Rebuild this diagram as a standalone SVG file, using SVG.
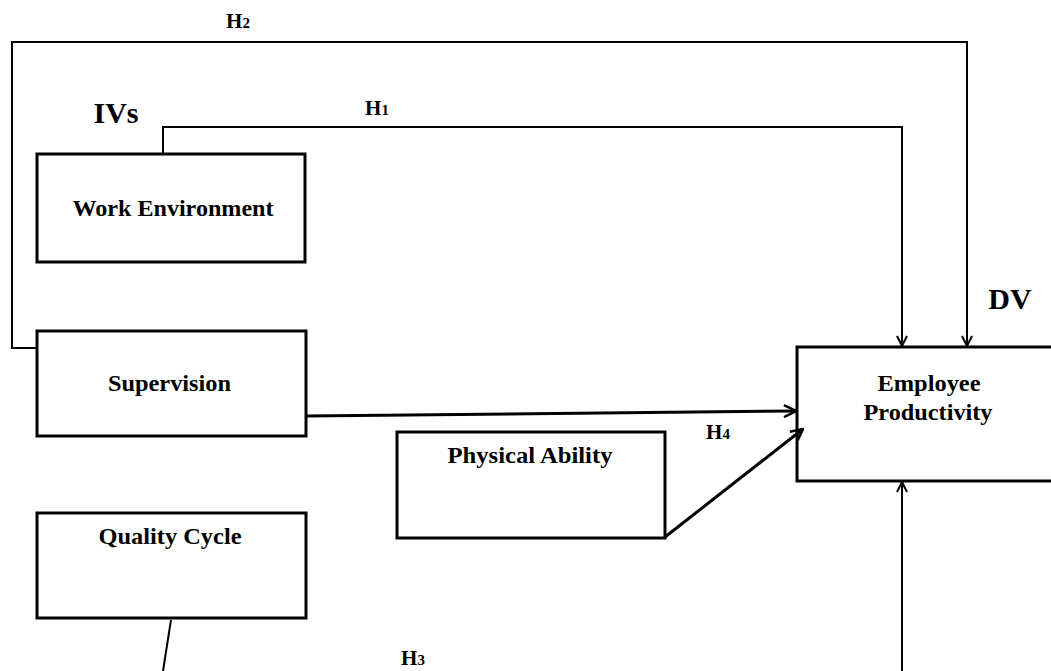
<svg xmlns="http://www.w3.org/2000/svg" width="1051" height="671" viewBox="0 0 1051 671">
<style>
.box{fill:#fff;stroke:#000;stroke-width:3}
.t{font-family:"Liberation Serif","Times New Roman",serif;font-weight:bold;fill:#000;text-anchor:middle}
.n{font-size:24px}
.h{font-size:21px}
.c{fill:none;stroke:#000;stroke-width:2}
.c3{fill:none;stroke:#000;stroke-width:3}
</style>
<defs>
<marker id="ah" viewBox="0 0 12 12" refX="11" refY="6" markerWidth="12" markerHeight="12" markerUnits="userSpaceOnUse" orient="auto">
<path d="M1,1 L11,6 L1,11" fill="none" stroke="#000" stroke-width="2"/>
</marker>
<marker id="ah3" viewBox="0 0 14 14" refX="13" refY="7" markerWidth="14" markerHeight="14" markerUnits="userSpaceOnUse" orient="auto">
<path d="M1,1 L13,7 L1,13" fill="none" stroke="#000" stroke-width="2.5"/>
</marker>
</defs>
<rect width="1051" height="671" fill="#fff"/>
<g id="labels">
<text class="t" x="116" y="123" font-size="30">IVs</text>
<text class="t" x="1010" y="309" font-size="30">DV</text>
<text class="t h" x="238" y="28">H<tspan font-size="15">2</tspan></text>
<text class="t h" x="377" y="115">H<tspan font-size="15">1</tspan></text>
<text class="t h" x="718" y="439">H<tspan font-size="15">4</tspan></text>
<text class="t h" x="413" y="665">H<tspan font-size="15">3</tspan></text>
</g>
<g id="work-environment">
<rect class="box" x="37" y="154" width="268" height="108"/>
<text class="t n" x="173" y="216" textLength="201" lengthAdjust="spacingAndGlyphs">Work Environment</text>
</g>
<g id="supervision">
<rect class="box" x="37" y="331" width="269" height="105"/>
<text class="t n" x="169.5" y="391" textLength="123" lengthAdjust="spacingAndGlyphs">Supervision</text>
</g>
<g id="quality-cycle">
<rect class="box" x="37" y="513" width="269" height="105"/>
<text class="t n" x="170" y="544" textLength="143" lengthAdjust="spacingAndGlyphs">Quality Cycle</text>
</g>
<g id="physical-ability">
<rect class="box" x="397" y="432" width="268" height="106"/>
<text class="t n" x="530" y="463" textLength="165" lengthAdjust="spacingAndGlyphs">Physical Ability</text>
</g>
<g id="employee-productivity">
<rect class="box" x="797" y="347" width="260" height="134"/>
<text class="t n" x="929" y="391" textLength="103" lengthAdjust="spacingAndGlyphs">Employee</text>
<text class="t n" x="928" y="420" textLength="129" lengthAdjust="spacingAndGlyphs">Productivity</text>
</g>
<g id="connectors">
<path class="c" d="M37,348 H12 V42 H967 V346" marker-end="url(#ah)"/>
<path class="c" d="M163,153 V127 H902 V346" marker-end="url(#ah)"/>
<path class="c3" d="M306,416 L796,411" marker-end="url(#ah3)"/>
<path class="c3" d="M665,537 L803,429" marker-end="url(#ah3)"/>
<path class="c" d="M902,671 V482" marker-end="url(#ah)"/>
<path class="c" d="M171,620 L163,671"/>
</g>
</svg>
